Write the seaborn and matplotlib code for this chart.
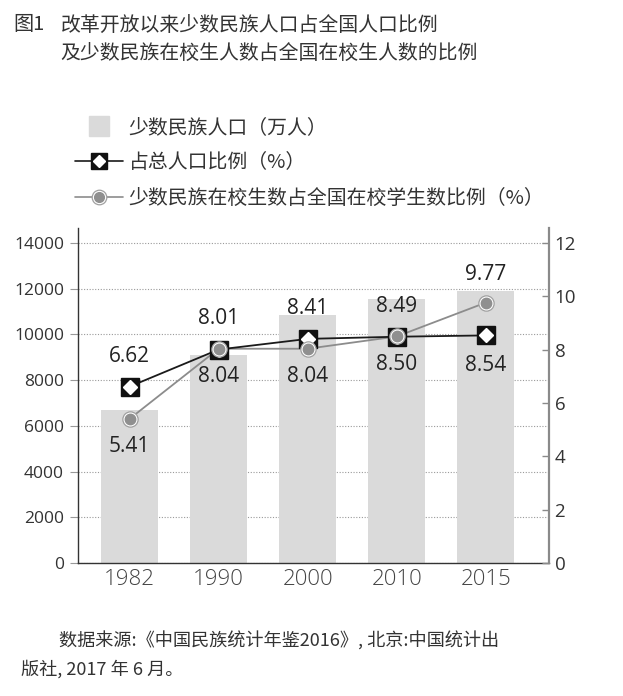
import numpy as np
import pandas as pd
import matplotlib
matplotlib.use("Agg")
import matplotlib.pyplot as plt
import seaborn as sns
from matplotlib.lines import Line2D

# ---- data ----
years = ["1982", "1990", "2000", "2010", "2015"]
population = [6680, 9090, 10850, 11550, 11900]          # 少数民族人口(万人)
pop_share = [6.62, 8.01, 8.41, 8.49, 8.54]               # 占总人口比例(%)
student_share = [5.41, 8.04, 8.04, 8.50, 9.77]           # 在校生比例(%)
left_ticks = [0, 2000, 4000, 6000, 8000, 10000, 12000, 14000]
right_ticks = [0, 2, 4, 6, 8, 10, 12]
legend_labels = ["少数民族人口（万人）", "占总人口比例（%）", "少数民族在校生数占全国在校学生数比例（%）"]

sns.set_theme(style="white")
plt.rcParams["font.family"] = ["Noto Sans CJK SC", "DejaVu Sans"]

TXT = "#333333"
W, H = 623, 696
fig = plt.figure(figsize=(W / 100, H / 100), dpi=100)
ax = fig.add_axes([78 / W, 1 - 563 / H, (549 - 78) / W, (563 - 228) / H])

df = pd.DataFrame({"year": years, "pop": population})
sns.barplot(data=df, x="year", y="pop", color="#d9d9d9", saturation=1,
            width=0.64, ax=ax, zorder=2)
for p in ax.patches:
    p.set_facecolor("#dadada")
    p.set_edgecolor("none")

ax.set_xlim(-0.58, 4.71)
ax.set_ylim(0, 14660)
ax.set_yticks(left_ticks)
ax.set_xlabel("")
ax.set_ylabel("")
ax.set_axisbelow(True)
ax.yaxis.grid(True, linestyle=(0, (1, 1.5)), color="#9a9a9a", linewidth=0.8)
ax.xaxis.grid(False)
ax.spines["top"].set_visible(False)
ax.spines["left"].set_color("#333333")
ax.spines["left"].set_linewidth(1.0)
ax.spines["bottom"].set_color("#333333")
ax.spines["bottom"].set_linewidth(1.0)
ax.spines["right"].set_visible(False)
ax.tick_params(axis="y", left=True, length=6, width=0.8, color="#999999",
               labelsize=12.5, labelcolor=TXT, pad=4)
ax.tick_params(axis="x", bottom=False, length=0, labelsize=16, labelcolor="#444444", pad=4)
for lab in ax.get_yticklabels() + ax.get_xticklabels():
    lab.set_family(["Open Sans", "DejaVu Sans"])
for lab in ax.get_xticklabels():
    lab.set_fontweight("light")

ax2 = ax.twinx()
ax2.set_ylim(0, 12.57)
ax2.set_yticks(right_ticks)
ax2.spines["top"].set_visible(False)
ax2.spines["left"].set_visible(False)
ax2.spines["bottom"].set_visible(False)
ax2.spines["right"].set_color("#8a8a8a")
ax2.spines["right"].set_linewidth(1.6)
ax2.tick_params(axis="y", right=True, direction="in", length=5, width=1,
                color="#8a8a8a", labelsize=13.5, labelcolor=TXT, pad=4)
for lab in ax2.get_yticklabels():
    lab.set_family(["Open Sans", "DejaVu Sans"])

xpos = np.arange(len(years))
ldf = pd.DataFrame({"x": xpos, "pop_share": pop_share, "stu": student_share})
sns.lineplot(data=ldf, x="x", y="stu", color="#8c8c8c", linewidth=1.3, ax=ax2, zorder=3)
sns.lineplot(data=ldf, x="x", y="pop_share", color="#1a1a1a", linewidth=1.3, ax=ax2, zorder=4)
ax2.set_xlabel("")
ax2.set_ylabel("")
ax2.set_xlim(-0.58, 4.71)

# markers
ax2.plot(xpos, pop_share, ls="none", marker="s", ms=12.5, mfc="#111111", mec="#111111", zorder=5)
ax2.plot(xpos, pop_share, ls="none", marker="D", ms=7, mfc="white", mec="white", zorder=6)
ax2.plot(xpos, student_share, ls="none", marker="o", ms=11, mfc="white", mec="#a0a0a0", mew=0.9, zorder=7)
ax2.plot(xpos, student_share, ls="none", marker="o", ms=7.5, mfc="#8f8f8f", mec="#8f8f8f", zorder=8)

# labels
lab_font = dict(fontsize=15, color="#222222", family=["Open Sans", "DejaVu Sans"],
                ha="center", va="center")
above_pop = [True, True, True, True, False]
for i, v in enumerate(pop_share):
    off = 22 if above_pop[i] else -22
    ax2.annotate(f"{v:.2f}", (xpos[i], v), xytext=(0, off), textcoords="offset points",
                 zorder=9, **lab_font)
above_stu = [False, False, False, False, True]
for i, v in enumerate(student_share):
    off = 20 if above_stu[i] else -20
    ax2.annotate(f"{v:.2f}", (xpos[i], v), xytext=(0, off), textcoords="offset points",
                 zorder=9, **lab_font)

# legend
h1 = Line2D([], [], ls="none", marker="s", ms=15, mfc="#dadada", mec="#dadada")
h2a = Line2D([], [], color="#1a1a1a", lw=1.2, marker="s", ms=12, mfc="#111111", mec="#111111")
h2b = Line2D([], [], ls="none", marker="D", ms=6.5, mfc="white", mec="white")
h3a = Line2D([], [], color="#8c8c8c", lw=1.2, marker="o", ms=10.5, mfc="white", mec="#a0a0a0", mew=0.9)
h3b = Line2D([], [], ls="none", marker="o", ms=7, mfc="#8f8f8f", mec="#8f8f8f")
fig.legend([h1, (h2a, h2b), (h3a, h3b)], legend_labels,
           loc="upper left", bbox_to_anchor=(75 / W, 1 - 117 / H), frameon=False,
           fontsize=14.3, handlelength=2.4, handletextpad=0.3, labelspacing=0.72,
           labelcolor=TXT, borderpad=0, borderaxespad=0)

# title
fig.text(13 / W, 1 - 25 / H, "图1", fontsize=14.5, color=TXT, va="center", ha="left")
fig.text(61 / W, 1 - 25 / H, "改革开放以来少数民族人口占全国人口比例", fontsize=14.3,
         color=TXT, va="center", ha="left")
fig.text(60 / W, 1 - 53 / H, "及少数民族在校生人数占全国在校生人数的比例", fontsize=14.3,
         color=TXT, va="center", ha="left")

# footer
fig.text(59 / W, 1 - 641 / H, "数据来源:《中国民族统计年鉴2016》, 北京:中国统计出", fontsize=13.1,
         color=TXT, va="center", ha="left")
fig.text(21 / W, 1 - 669 / H, "版社, 2017 年 6 月。", fontsize=13.1,
         color=TXT, va="center", ha="left")

fig.savefig("out.png", dpi=100)
